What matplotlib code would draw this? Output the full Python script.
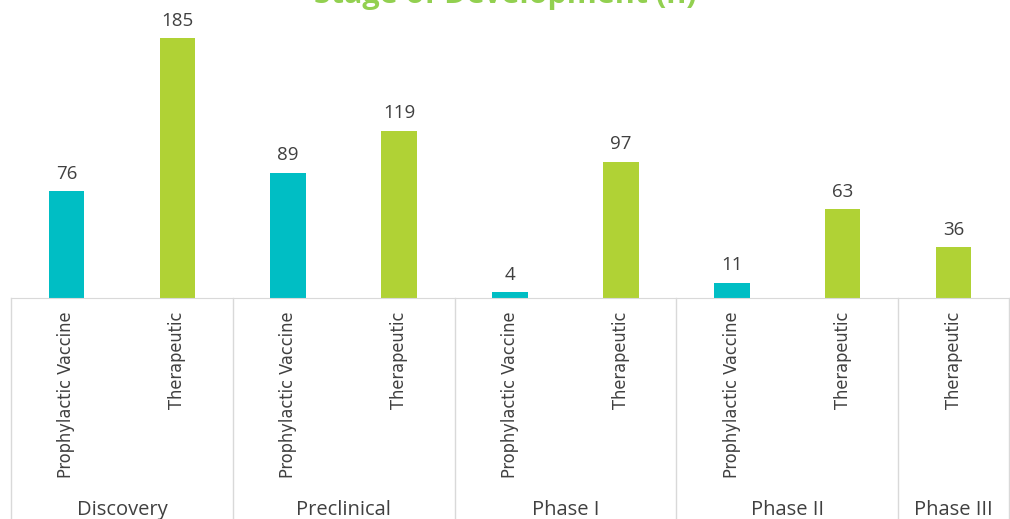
import matplotlib
matplotlib.use("Agg")
from matplotlib import pyplot as plt

# Data
stages = ["Discovery", "Preclinical", "Phase I", "Phase II", "Phase III"]
categories = ["Prophylactic Vaccine", "Therapeutic",
              "Prophylactic Vaccine", "Therapeutic",
              "Prophylactic Vaccine", "Therapeutic",
              "Prophylactic Vaccine", "Therapeutic",
              "Therapeutic"]
stageOf = [0, 0, 1, 1, 2, 2, 3, 3, 4]
values = [76, 185, 89, 119, 4, 97, 11, 63, 36]

TEAL = "#00BEC4"
GREEN = "#B0D235"
GRID = "#D9D9D9"
TEXT = "#404040"

colors = [TEAL if c.startswith("Prophylactic") else GREEN for c in categories]

fig = plt.figure(figsize=(10.1, 5.19), dpi=100)
ax = fig.add_axes([11/1010, 1 - 298/519, 998/1010, 260/519])

x = list(range(len(values)))
ax.bar(x, values, width=0.32, color=colors)
ax.set_xlim(-0.5, len(values) - 0.5)
ax.set_ylim(0, 185)

for xi, v in zip(x, values):
	ax.text(xi, v + 6, str(v), ha="center", va="bottom", fontsize=13.5,
			color=TEXT, family="Open Sans", clip_on=False)

for s in ["top", "right", "left"]:
	ax.spines[s].set_visible(False)
ax.spines["bottom"].set_color(GRID)
ax.set_yticks([])

ax.set_xticks(x)
ax.set_xticklabels(categories, rotation=90, va="top", ha="center",
				   fontsize=13, color=TEXT, family="DejaVu Sans",
				   fontstretch="condensed")
ax.tick_params(axis="x", length=0, pad=10)

# group separators and group labels
trans = ax.get_xaxis_transform()
bounds = [-0.5]
for i in range(1, len(stageOf)):
	if stageOf[i] != stageOf[i - 1]:
		bounds.append(i - 0.5)
bounds.append(len(stageOf) - 0.5)
for b in bounds:
	ax.plot([b, b], [0, -0.9], color=GRID, lw=1, transform=trans, clip_on=False)
for k, name in enumerate(stages):
	mid = (bounds[k] + bounds[k + 1]) / 2
	ax.text(mid, -0.815, name, ha="center", va="center", fontsize=14.5,
			color=TEXT, family="Open Sans", transform=trans, clip_on=False)

fig.text(0.5, 1 - 3/519, "Stage of Development (n)", ha="center", va="baseline",
		 fontsize=22, fontweight="bold", color="#92D050", family="Open Sans")

fig.savefig("out.png", dpi=100)
